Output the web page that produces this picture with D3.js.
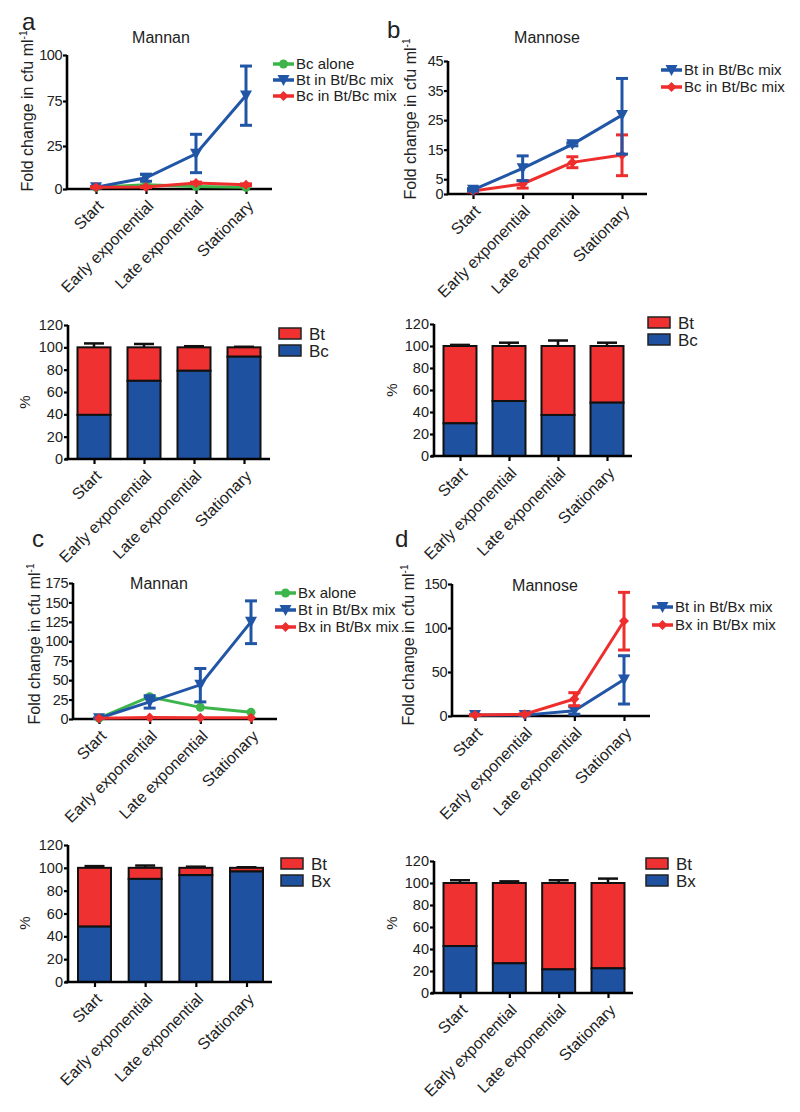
<!DOCTYPE html>
<html><head><meta charset="utf-8">
<script src="https://cdn.jsdelivr.net/npm/d3@7"></script>
<style>
body{margin:0;background:#fff;}
svg text{font-family:Arial,"Liberation Sans",Helvetica,sans-serif;fill:#222;}
</style></head>
<body><svg id="c" width="800" height="1112"></svg>
<script>
const categories = ["Start","Early exponential","Late exponential","Stationary"];

// Panel a – Mannan (Bt / Bc)
const aBcAlone = [1, 2.5, 1.5, 1];
const aBtMix = [1, 6.5, 20.5, 78];
const aBtMixLo = [0.5, 4.5, 9.5, 48];
const aBtMixHi = [1.5, 8.5, 38, 94];
const aBcMix = [1, 1.2, 3.5, 2.5];
const aBcMixLo = [0.7, 0.8, 3, 2];
const aBcMixHi = [1.3, 1.6, 4, 3];
const aYTicks = [0, 25, 75, 100];

// Panel b – Mannose (Bt / Bc)
const bBtMix = [1.4, 8.7, 16.8, 26.7];
const bBtMixLo = [1, 4.5, 16.3, 13.5];
const bBtMixHi = [1.8, 12.9, 17.3, 39.1];
const bBcMix = [1, 3.4, 10.7, 13.2];
const bBcMixLo = [0.7, 2, 8.9, 6.2];
const bBcMixHi = [1.3, 4.5, 12.6, 20];
const bYTicks = [0, 5, 15, 25, 35, 45];

// Panel c – Mannan (Bt / Bx)
const cBxAlone = [1, 28.7, 15, 8.6];
const cBtMix = [1, 22, 44, 125];
const cBtMixLo = [0.5, 14, 22, 97];
const cBtMixHi = [1.5, 30, 65, 152];
const cBxMix = [1, 2, 1.5, 1.5];
const cYTicks = [0, 25, 50, 75, 100, 125, 150, 175];

// Panel d – Mannose (Bt / Bx)
const dBtMix = [1, 1, 6, 41.5];
const dBtMixLo = [0.5, 0.5, 2, 13.6];
const dBtMixHi = [1.5, 1.5, 10.5, 68.5];
const dBxMix = [1, 2, 19.3, 108];
const dBxMixLo = [0.5, 1.5, 11.7, 75];
const dBxMixHi = [1.5, 2.5, 26.5, 140.5];
const dYTicks = [0, 50, 100, 150];

// Stacked bars: % of second species (blue), remainder Bt (red), error on top
const aBarBc = [39.5, 70, 79, 91.6];
const aBarErr = [3.5, 3, 1, 0.5];
const bBarBc = [29.7, 50, 37.3, 48.5];
const bBarErr = [1, 3, 5, 3];
const cBarBx = [48.5, 90.3, 93.6, 96.8];
const cBarErr = [1.5, 2, 1, 0.5];
const dBarBx = [42.7, 27, 21.5, 22.4];
const dBarErr = [2.5, 1.5, 2.5, 4];
const barYTicks = [0, 20, 40, 60, 80, 100, 120];

const BLUE = "#2155a6", RED = "#ee2d2d", GREEN = "#3db54a";
const BARBLUE = "#1f51a1", BARRED = "#ef3131";

const svg = d3.select("#c");

function styleAxis(g, fs){
  g.selectAll(".domain").attr("stroke","#000").attr("stroke-width",2.6);
  g.selectAll(".tick line").attr("stroke","#000").attr("stroke-width",2.2);
  g.selectAll(".tick text").style("font-size",fs+"px").attr("fill","#222");
}

function xLabels(g){
  g.selectAll(".tick text")
    .style("font-size","16px")
    .attr("text-anchor","end")
    .attr("dy","0.35em")
    .attr("transform","translate(4,14) rotate(-45)")
    .attr("x",0).attr("y",0);
}

function marker(sel, shape, color){
  if(shape==="tri") sel.append("path").attr("d","M-6,-5L6,-5L0,6Z").attr("fill",color);
  else if(shape==="dia") sel.append("path").attr("d","M0,-5L5,0L0,5L-5,0Z").attr("fill",color);
  else sel.append("circle").attr("r",4.5).attr("fill",color);
}

function yLabel(x, y){
  const t = svg.append("text").attr("transform",`translate(${x},${y}) rotate(-90)`)
    .attr("text-anchor","middle").style("font-size","16px");
  t.append("tspan").text("Fold change in cfu ml");
  t.append("tspan").attr("dy","-6").style("font-size","10px").text("-1");
}

function lineChart(cfg){
  const x = d3.scalePoint().domain(categories).range([cfg.x0, cfg.x3]);
  const y = d3.scaleLinear().domain(cfg.yDomain).range(cfg.yRange);
  const gx = svg.append("g").attr("transform",`translate(0,${cfg.axisY})`)
    .call(d3.axisBottom(x).tickSize(5).tickPadding(2));
  gx.select(".domain").attr("d",`M${cfg.axisX},0H${cfg.axisEnd}`);
  styleAxis(gx, 14); xLabels(gx);
  const gy = svg.append("g").attr("transform",`translate(${cfg.axisX},0)`)
    .call(d3.axisLeft(y).tickValues(cfg.yTicks).tickSize(4).tickPadding(1));
  gy.select(".domain").attr("d",`M0,${y(cfg.yTicks[cfg.yTicks.length-1])}V${cfg.axisY}`);
  styleAxis(gy, 14.5);
  gy.selectAll(".tick text").style("letter-spacing","-0.5px");
  cfg.series.forEach(s=>{
    const line = d3.line().x((d,i)=>x(categories[i])).y(d=>y(d));
    svg.append("path").datum(s.v).attr("d",line).attr("fill","none")
      .attr("stroke",s.color).attr("stroke-width",3);
    if(s.lo){
      s.v.forEach((v,i)=>{
        const cx = x(categories[i]);
        const g = svg.append("g").attr("stroke",s.color).attr("stroke-width",3);
        g.append("line").attr("x1",cx).attr("x2",cx).attr("y1",y(s.lo[i])).attr("y2",y(s.hi[i]));
        g.append("line").attr("x1",cx-6).attr("x2",cx+6).attr("y1",y(s.lo[i])).attr("y2",y(s.lo[i]));
        g.append("line").attr("x1",cx-6).attr("x2",cx+6).attr("y1",y(s.hi[i])).attr("y2",y(s.hi[i]));
      });
    }
    s.v.forEach((v,i)=>{
      const m = svg.append("g").attr("transform",`translate(${x(categories[i])},${y(v)})`);
      marker(m, s.shape, s.color);
    });
  });
  svg.append("text").attr("x",cfg.titleX).attr("y",cfg.titleY).attr("text-anchor","middle")
    .style("font-size","16px").text(cfg.title);
  yLabel(cfg.ylabX, cfg.ylabY);
  cfg.legend.forEach((s,i)=>{
    const ly = cfg.legY + i*cfg.legStep;
    svg.append("line").attr("x1",cfg.legX).attr("x2",cfg.legX+21).attr("y1",ly).attr("y2",ly)
      .attr("stroke",s.color).attr("stroke-width",3.5);
    const m = svg.append("g").attr("transform",`translate(${cfg.legX+10.5},${ly})`);
    marker(m, s.shape, s.color);
    svg.append("text").attr("x",cfg.legX+23).attr("y",ly).attr("dy","0.36em")
      .style("font-size","15px").text(s.name);
  });
}

function barChart(cfg){
  const x = d3.scalePoint().domain(categories).range([cfg.x0, cfg.x3]);
  const y = d3.scaleLinear().domain([0,120]).range([cfg.axisY, cfg.yTop]);
  const bw = 33;
  cfg.low.forEach((v,i)=>{
    const cx = x(categories[i]);
    const g = svg.append("g").attr("stroke","#111").attr("stroke-width",2);
    g.append("line").attr("x1",cx).attr("x2",cx).attr("y1",y(100)).attr("y2",y(100+cfg.err[i]))
      .attr("stroke-width",2.5);
    g.append("line").attr("x1",cx-10).attr("x2",cx+10).attr("y1",y(100+cfg.err[i])).attr("y2",y(100+cfg.err[i]))
      .attr("stroke-width",2.5);
    g.append("rect").attr("x",cx-bw/2).attr("width",bw).attr("y",y(100)).attr("height",y(v)-y(100))
      .attr("fill",BARRED);
    g.append("rect").attr("x",cx-bw/2).attr("width",bw).attr("y",y(v)).attr("height",y(0)-y(v))
      .attr("fill",BARBLUE);
  });
  const gx = svg.append("g").attr("transform",`translate(0,${cfg.axisY})`)
    .call(d3.axisBottom(x).tickSize(5).tickPadding(2));
  gx.select(".domain").attr("d",`M${cfg.axisX-3},0H${cfg.axisEnd}`);
  styleAxis(gx, 14.5); xLabels(gx);
  const gy = svg.append("g").attr("transform",`translate(${cfg.axisX},0)`)
    .call(d3.axisLeft(y).tickValues(barYTicks).tickSize(4).tickPadding(1));
  gy.select(".domain").attr("d",`M0,${y(120)}V${cfg.axisY}`);
  styleAxis(gy, 14.5);
  svg.append("text").attr("transform",`translate(${cfg.pctX},${cfg.pctY}) rotate(-90)`)
    .attr("text-anchor","middle").style("font-size","15px").text("%");
  [["Bt",BARRED],[cfg.other,BARBLUE]].forEach((d,i)=>{
    const ry = cfg.legY + i*17;
    svg.append("rect").attr("x",cfg.legX).attr("y",ry).attr("width",22).attr("height",11)
      .attr("fill",d[1]).attr("stroke","#222").attr("stroke-width",1.5);
    svg.append("text").attr("x",cfg.legX+30).attr("y",ry+5.5).attr("dy","0.36em")
      .style("font-size","17px").text(d[0]);
  });
}

// Panel letters
[["a",22,30],["b",387,38],["c",32,547],["d",395,547]].forEach(d=>{
  svg.append("text").attr("x",d[1]).attr("y",d[2]).style("font-size","24px").text(d[0]);
});

lineChart({x0:96,x3:246,axisX:67,axisEnd:272,axisY:189,
  yDomain:[0,25,75,100], yRange:[189,146,101,55], yTicks:aYTicks,
  title:"Mannan", titleX:161, titleY:43, ylabX:33, ylabY:111,
  series:[{v:aBcAlone,color:GREEN,shape:"circ"},
          {v:aBtMix,lo:aBtMixLo,hi:aBtMixHi,color:BLUE,shape:"tri"},
          {v:aBcMix,lo:aBcMixLo,hi:aBcMixHi,color:RED,shape:"dia"}],
  legend:[{name:"Bc alone",color:GREEN,shape:"circ"},{name:"Bt in Bt/Bc mix",color:BLUE,shape:"tri"},{name:"Bc in Bt/Bc mix",color:RED,shape:"dia"}],
  legX:273, legY:64, legStep:16});

lineChart({x0:473,x3:622,axisX:448,axisEnd:647,axisY:194,
  yDomain:[0,45], yRange:[194,61], yTicks:bYTicks,
  title:"Mannose", titleX:547, titleY:43, ylabX:416, ylabY:119,
  series:[{v:bBcMix,lo:bBcMixLo,hi:bBcMixHi,color:RED,shape:"dia"},
          {v:bBtMix,lo:bBtMixLo,hi:bBtMixHi,color:BLUE,shape:"tri"}],
  legend:[{name:"Bt in Bt/Bc mix",color:BLUE,shape:"tri"},{name:"Bc in Bt/Bc mix",color:RED,shape:"dia"}],
  legX:661, legY:70, legStep:17});

lineChart({x0:99,x3:251,axisX:73,axisEnd:277,axisY:719,
  yDomain:[0,175], yRange:[719,583], yTicks:cYTicks,
  title:"Mannan", titleX:159, titleY:589, ylabX:40, ylabY:644,
  series:[{v:cBxAlone,color:GREEN,shape:"circ"},
          {v:cBtMix,lo:cBtMixLo,hi:cBtMixHi,color:BLUE,shape:"tri"},
          {v:cBxMix,color:RED,shape:"dia"}],
  legend:[{name:"Bx alone",color:GREEN,shape:"circ"},{name:"Bt in Bt/Bx mix",color:BLUE,shape:"tri"},{name:"Bx in Bt/Bx mix",color:RED,shape:"dia"}],
  legX:275, legY:593, legStep:17});

lineChart({x0:475,x3:624,axisX:452,axisEnd:650,axisY:716,
  yDomain:[0,150], yRange:[716,584], yTicks:dYTicks,
  title:"Mannose", titleX:545, titleY:591, ylabX:414, ylabY:645,
  series:[{v:dBtMix,lo:dBtMixLo,hi:dBtMixHi,color:BLUE,shape:"tri"},
          {v:dBxMix,lo:dBxMixLo,hi:dBxMixHi,color:RED,shape:"dia"}],
  legend:[{name:"Bt in Bt/Bx mix",color:BLUE,shape:"tri"},{name:"Bx in Bt/Bx mix",color:RED,shape:"dia"}],
  legX:652, legY:607, legStep:18});

barChart({x0:94,x3:244,axisX:68,axisEnd:270,axisY:459,yTop:325,low:aBarBc,err:aBarErr,
  other:"Bc",pctX:30,pctY:402,legX:279,legY:328});
barChart({x0:460,x3:607,axisX:434,axisEnd:632,axisY:456,yTop:324,low:bBarBc,err:bBarErr,
  other:"Bc",pctX:397,pctY:390,legX:648,legY:317});
barChart({x0:94.5,x3:246.5,axisX:68,axisEnd:272,axisY:982,yTop:845,low:cBarBx,err:cBarErr,
  other:"Bx",pctX:30,pctY:923,legX:281,legY:858});
barChart({x0:460,x3:608,axisX:434,axisEnd:633,axisY:993,yTop:861,low:dBarBx,err:dBarErr,
  other:"Bx",pctX:397,pctY:923,legX:646,legY:858});
</script></body></html>
